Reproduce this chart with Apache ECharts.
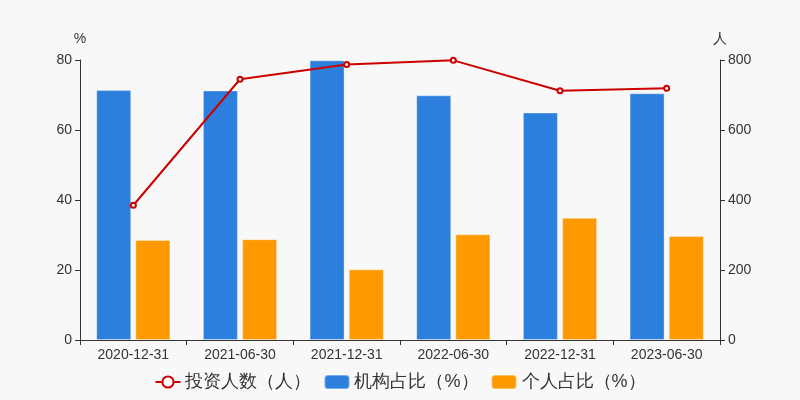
<!DOCTYPE html>
<html>
<head>
<meta charset="utf-8">
<script src="https://cdn.jsdelivr.net/npm/echarts@6/dist/echarts.min.js"></script>
<style>html,body{margin:0;padding:0;background:#f8f8f8;}#main{width:800px;height:400px;}</style>
</head>
<body>
<div id="main"></div>
<script>
var categories = ['2020-12-31','2021-06-30','2021-12-31','2022-06-30','2022-12-31','2023-06-30'];
var investors = [385, 745, 787, 799, 712, 719];
var institutionPct = [71.4, 71.3, 79.9, 69.9, 65.0, 70.5];
var individualPct = [28.6, 28.8, 20.2, 30.2, 34.9, 29.7];
var leftTicks = {min: 0, max: 80, interval: 20};
var rightTicks = {min: 0, max: 800, interval: 200};

var chart = echarts.init(document.getElementById('main'));
var font = 'sans-serif';
chart.setOption({
  backgroundColor: '#f8f8f8',
  animation: false,
  textStyle: {fontFamily: font},
  grid: {left: 80, right: 80, top: 60, bottom: 60},
  legend: {
    bottom: 4,
    itemGap: 12,
    itemWidth: 25,
    itemHeight: 14,
    textStyle: {fontSize: 18, color: '#333'},
    data: ['投资人数（人）', '机构占比（%）', '个人占比（%）']
  },
  xAxis: {
    type: 'category',
    data: categories,
    axisLine: {lineStyle: {color: '#333'}},
    axisTick: {show: true, lineStyle: {color: '#333'}},
    axisLabel: {color: '#333', fontSize: 14, margin: 8}
  },
  yAxis: [
    {
      type: 'value', name: '%', min: leftTicks.min, max: leftTicks.max, interval: leftTicks.interval,
      nameTextStyle: {color: '#333', fontSize: 14, align: 'center'},
      nameGap: 14,
      axisLine: {show: true, lineStyle: {color: '#333'}},
      axisTick: {show: true},
      splitLine: {show: false},
      axisLabel: {color: '#333', fontSize: 14}
    },
    {
      type: 'value', name: '人', min: rightTicks.min, max: rightTicks.max, interval: rightTicks.interval,
      nameTextStyle: {color: '#333', fontSize: 14, align: 'center'},
      nameGap: 14,
      axisLine: {show: true, lineStyle: {color: '#333'}},
      axisTick: {show: true},
      splitLine: {show: false},
      axisLabel: {color: '#333', fontSize: 14}
    }
  ],
  series: [
    {
      name: '投资人数（人）', type: 'line', yAxisIndex: 1, data: investors,
      symbol: 'emptyCircle', symbolSize: 5,
      itemStyle: {color: '#cc0000', borderColor: '#cc0000', borderWidth: 1},
      lineStyle: {color: '#cc0000', width: 2},
      z: 5
    },
    {
      name: '机构占比（%）', type: 'bar', yAxisIndex: 0, data: institutionPct,
      barWidth: 35, barGap: '12%',
      itemStyle: {color: '#2d7fde', borderColor: 'rgba(255,255,255,0.35)', borderWidth: 1}
    },
    {
      name: '个人占比（%）', type: 'bar', yAxisIndex: 0, data: individualPct,
      barWidth: 35, barGap: '12%',
      itemStyle: {color: '#ff9900', borderColor: 'rgba(255,255,255,0.35)', borderWidth: 1}
    }
  ]
});
</script>
</body>
</html>
